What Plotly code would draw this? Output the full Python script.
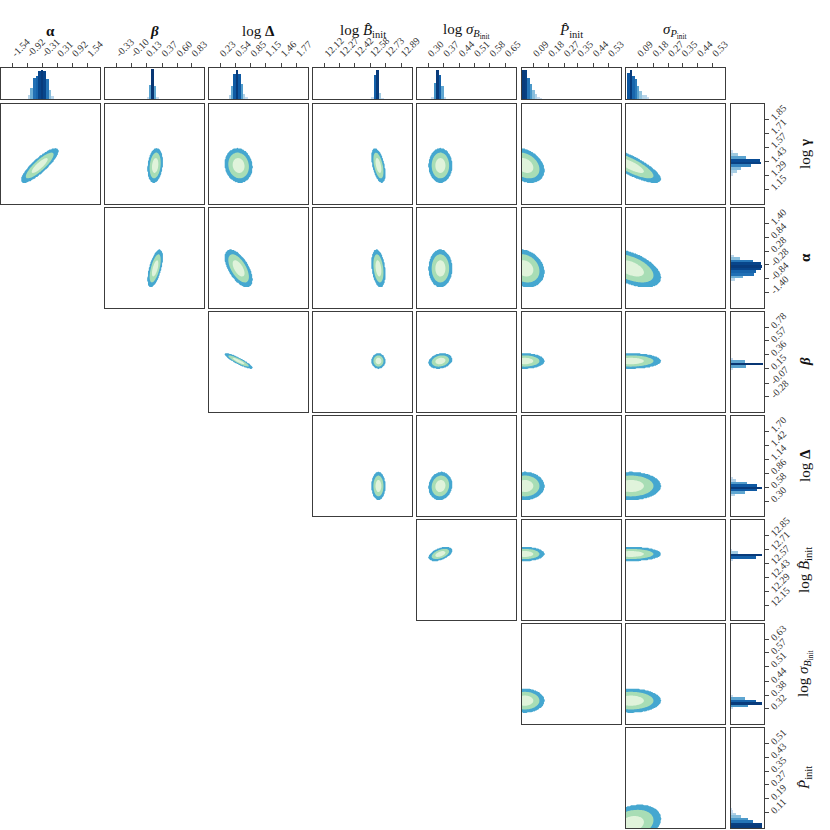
import numpy as np
import plotly.graph_objects as go
from plotly.colors import sample_colorscale

W = H = 830

# ---------------- data ----------------
col_vars = ["alpha", "beta", "logDelta", "logB", "logsigB", "Pinit", "sigP"]
row_vars = ["loggamma", "alpha", "beta", "logDelta", "logB", "logsigB", "Pinit"]

labels = {
    "alpha": "<b>α</b>",
    "beta": "<b><i>β</i></b>",
    "loggamma": "log <b>γ</b>",
    "logDelta": "log <b>Δ</b>",
    "logB": "log <i>B̂</i><sub>init</sub>",
    "logsigB": "log <i>σ</i><sub><i>B</i><sub>init</sub></sub>",
    "Pinit": "<i>P̂</i><sub>init</sub>",
    "sigP": "<i>σ</i><sub><i>P</i><sub>init</sub></sub>",
}

axis_range = {
    "alpha": [-2.02, 2.02],
    "beta": [-0.51, 1.01],
    "loggamma": [1.0, 2.0],
    "logDelta": [0.0, 2.0],
    "logB": [12.0, 13.0],
    "logsigB": [0.25, 0.70],
    "Pinit": [0.02, 0.60],
    "sigP": [0.02, 0.60],
}

x_ticks = {
    "alpha": [-1.54, -0.92, -0.31, 0.31, 0.92, 1.54],
    "beta": [-0.33, -0.10, 0.13, 0.37, 0.60, 0.83],
    "logDelta": [0.23, 0.54, 0.85, 1.15, 1.46, 1.77],
    "logB": [12.12, 12.27, 12.42, 12.58, 12.73, 12.89],
    "logsigB": [0.30, 0.37, 0.44, 0.51, 0.58, 0.65],
    "Pinit": [0.09, 0.18, 0.27, 0.35, 0.44, 0.53],
    "sigP": [0.09, 0.18, 0.27, 0.35, 0.44, 0.53],
}

y_ticks = {
    "loggamma": [1.15, 1.29, 1.43, 1.57, 1.71, 1.85],
    "alpha": [-1.40, -0.84, -0.28, 0.28, 0.84, 1.40],
    "beta": [-0.28, -0.07, 0.15, 0.36, 0.57, 0.78],
    "logDelta": [0.30, 0.58, 0.86, 1.14, 1.42, 1.70],
    "logB": [12.15, 12.29, 12.43, 12.57, 12.71, 12.85],
    "logsigB": [0.32, 0.38, 0.44, 0.51, 0.57, 0.63],
    "Pinit": [0.11, 0.19, 0.27, 0.35, 0.43, 0.51],
}

# marginal histograms: first bin edge, bin width, normalised bar heights
hist_start = {"alpha": -0.93, "beta": 0.128, "loggamma": 1.284, "logDelta": 0.394,
              "logB": 12.59, "logsigB": 0.3155, "Pinit": 0.022, "sigP": 0.027}
hist_width = {"alpha": 0.107, "beta": 0.037, "loggamma": 0.028, "logDelta": 0.0485,
              "logB": 0.0245, "logsigB": 0.011, "Pinit": 0.0146, "sigP": 0.0143}
hist_heights = {
    "alpha": [0.12, 0.37, 0.69, 0.75, 0.90, 0.95, 0.90, 0.66, 0.28, 0.10],
    "beta": [0.05, 0.45, 0.97, 0.42, 0.05],
    "loggamma": [0.06, 0.18, 0.30, 0.60, 0.92, 0.87, 0.44, 0.22, 0.05],
    "logDelta": [0.13, 0.42, 0.80, 0.95, 0.80, 0.47, 0.15, 0.05],
    "logB": [0.05, 0.77, 0.95, 0.20, 0.03],
    "logsigB": [0.05, 0.53, 0.95, 0.77, 0.42, 0.05],
    "Pinit": [0.95, 0.93, 0.67, 0.50, 0.29, 0.15, 0.05, 0.02],
    "sigP": [0.83, 0.95, 0.74, 0.65, 0.43, 0.26, 0.13, 0.12, 0.04],
}

# 2-D posterior summaries (centre, spread) and pairwise correlations
centre = {"alpha": -0.42, "beta": 0.265, "loggamma": 1.385, "logDelta": 0.60,
          "logB": 12.66, "logsigB": 0.355, "Pinit": 0.04, "sigP": 0.05}
spread = {"alpha": 0.30, "beta": 0.045, "loggamma": 0.068, "logDelta": 0.11,
          "logB": 0.027, "logsigB": 0.021, "Pinit": 0.045, "sigP": 0.07}
corr = {
    ("alpha", "loggamma"): 0.85, ("beta", "loggamma"): 0.2, ("logDelta", "loggamma"): -0.1,
    ("logB", "loggamma"): -0.5, ("logsigB", "loggamma"): 0.0, ("Pinit", "loggamma"): -0.3,
    ("sigP", "loggamma"): -0.8,
    ("beta", "alpha"): 0.6, ("logDelta", "alpha"): -0.6, ("logB", "alpha"): -0.3,
    ("logsigB", "alpha"): 0.0, ("Pinit", "alpha"): -0.2, ("sigP", "alpha"): -0.5,
    ("logDelta", "beta"): -0.9, ("logB", "beta"): 0.0, ("logsigB", "beta"): 0.2,
    ("Pinit", "beta"): 0.0, ("sigP", "beta"): 0.0,
    ("logB", "logDelta"): 0.0, ("logsigB", "logDelta"): 0.1, ("Pinit", "logDelta"): 0.0,
    ("sigP", "logDelta"): 0.0,
    ("logsigB", "logB"): 0.5, ("Pinit", "logB"): 0.0, ("sigP", "logB"): 0.0,
    ("Pinit", "logsigB"): 0.0, ("sigP", "logsigB"): 0.0,
    ("sigP", "Pinit"): 0.3,
}
# Mahalanobis radii of the three filled credible regions (inner, middle, outer)
level_radius = [1.1, 1.9, 2.5]

# ---------------- styling ----------------
FONT = "Liberation Serif"
INNER, MID, OUTER = "#e0f3db", "#a8ddb5", "#45a7d0"
LINE = "#3c3c3c"

col_left = [0.5 + k * 104.2 for k in range(7)]
PANEL_W = 99.0
right_x = (731.0, 764.0)
top_y = (68.0, 99.0)
row_top = [104.0 + 104.0 * r for r in range(7)]
PANEL_H = 100.0


def xdom(a, b):
    return [max(0.0, a / W), min(1.0, b / W)]


def ydom(a, b):
    return [max(0.0, 1 - b / H), min(1.0, 1 - a / H)]


fig = go.Figure()
layout = {}
counter = [0]


def new_axes(xd, yd, xcfg, ycfg):
    counter[0] += 1
    i = counter[0]
    xn = "xaxis" if i == 1 else f"xaxis{i}"
    yn = "yaxis" if i == 1 else f"yaxis{i}"
    xr = "x" if i == 1 else f"x{i}"
    yr = "y" if i == 1 else f"y{i}"
    base = dict(showgrid=False, zeroline=False, showline=True, mirror=True,
                linecolor=LINE, linewidth=1.2, fixedrange=True)
    xc = dict(base, domain=xd, anchor=yr)
    xc.update(xcfg)
    yc = dict(base, domain=yd, anchor=xr)
    yc.update(ycfg)
    layout[xn] = xc
    layout[yn] = yc
    return xr, yr


NOTICK = dict(showticklabels=False, ticks="")


def tick_cfg(vals):
    return dict(tickmode="array", tickvals=vals, ticktext=[f"{v:.2f}" for v in vals],
                ticks="outside", ticklen=4, tickwidth=1, tickcolor="#444",
                tickangle=-45, tickfont=dict(family=FONT, size=10, color="#333"),
                showticklabels=True)


def bar_colors(h):
    return sample_colorscale("Blues", [0.2 + 0.8 * min(1.0, v) for v in h])


def hist_geometry(v):
    h = hist_heights[v]
    centers = [hist_start[v] + (k + 0.5) * hist_width[v] for k in range(len(h))]
    return centers, h


# top marginal histograms (column variables)
for c, v in enumerate(col_vars):
    xr, yr = new_axes(xdom(col_left[c], col_left[c] + PANEL_W), ydom(*top_y),
                      dict(range=axis_range[v], side="top", **tick_cfg(x_ticks[v])),
                      dict(range=[0, 1.0], **NOTICK))
    centers, h = hist_geometry(v)
    fig.add_trace(go.Bar(x=centers, y=h, width=hist_width[v],
                         marker=dict(color=bar_colors(h), line=dict(width=0)),
                         xaxis=xr, yaxis=yr, showlegend=False, hoverinfo="skip"))

# right marginal histograms (row variables)
for r, v in enumerate(row_vars):
    xr, yr = new_axes(xdom(*right_x), ydom(row_top[r], row_top[r] + PANEL_H),
                      dict(range=[0, 1.0], **NOTICK),
                      dict(range=axis_range[v], side="right", **tick_cfg(y_ticks[v])))
    centers, h = hist_geometry(v)
    fig.add_trace(go.Bar(y=centers, x=h, width=hist_width[v], orientation="h",
                         marker=dict(color=bar_colors(h), line=dict(width=0)),
                         xaxis=xr, yaxis=yr, showlegend=False, hoverinfo="skip"))

# 2-D filled credible regions (levels 1, 2, 3 = outer, middle, inner)
cscale = [[0.0, "rgba(255,255,255,0)"], [0.1, "rgba(255,255,255,0)"],
          [0.1, OUTER], [0.42, OUTER], [0.42, MID], [0.75, MID],
          [0.75, INNER], [1.0, INNER]]
for r, yv in enumerate(row_vars):
    for c, xv in enumerate(col_vars):
        if c < r:
            continue
        xr, yr = new_axes(xdom(col_left[c], col_left[c] + PANEL_W),
                          ydom(row_top[r], row_top[r] + PANEL_H),
                          dict(range=axis_range[xv], **NOTICK),
                          dict(range=axis_range[yv], **NOTICK))
        gx = np.linspace(axis_range[xv][0], axis_range[xv][1], 120)
        gy = np.linspace(axis_range[yv][0], axis_range[yv][1], 120)
        X, Y = np.meshgrid(gx, gy)
        rho = corr[(xv, yv)]
        u = (X - centre[xv]) / spread[xv]
        w = (Y - centre[yv]) / spread[yv]
        rad = np.sqrt((u * u - 2 * rho * u * w + w * w) / (1 - rho * rho))
        lvl = np.interp(rad, [0.0] + level_radius + [50.0],
                        [4.0, 3.0, 2.0, 1.0, 0.0])
        fig.add_trace(go.Contour(x=gx, y=gy, z=lvl, xaxis=xr, yaxis=yr,
                                 autocontour=False,
                                 contours=dict(start=1, end=3, size=1, coloring="fill",
                                               showlines=False),
                                 line=dict(width=0), colorscale=cscale,
                                 zmin=0.5, zmax=3.5, zauto=False,
                                 showscale=False, hoverinfo="skip"))

# column / row titles
ann = []
for c, v in enumerate(col_vars):
    ann.append(dict(text=labels[v], x=(col_left[c] + PANEL_W / 2) / W, y=1 - 31 / H,
                    xref="paper", yref="paper", showarrow=False, xanchor="center",
                    yanchor="middle", font=dict(family=FONT, size=15, color="#111")))
for r, v in enumerate(row_vars):
    ann.append(dict(text=labels[v], x=805 / W, y=1 - (row_top[r] + PANEL_H / 2) / H,
                    xref="paper", yref="paper", showarrow=False, textangle=-90,
                    xanchor="center", yanchor="middle",
                    font=dict(family=FONT, size=15, color="#111")))

layout.update(dict(width=W, height=H, margin=dict(l=0, r=0, t=0, b=0, pad=0),
                   paper_bgcolor="white", plot_bgcolor="white", template="none",
                   showlegend=False, annotations=ann, bargap=0))
fig.update_layout(**layout)
fig.write_html("out.html", config={"displayModeBar": False},
               post_script="document.body.style.margin='0';"
                           "document.body.style.padding='0';"
                           "document.body.style.overflow='hidden';")
